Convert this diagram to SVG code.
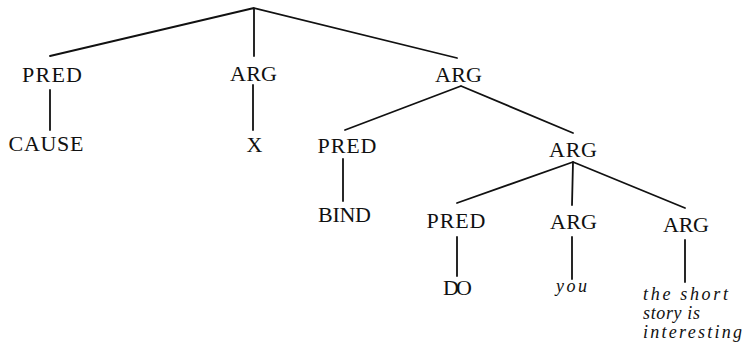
<svg xmlns="http://www.w3.org/2000/svg" width="748" height="347" viewBox="0 0 748 347">
<style>
.n{font-family:"Liberation Serif","Times New Roman",serif;font-size:22px;fill:#111;text-anchor:middle}
.i{font-family:"Liberation Serif","Times New Roman",serif;font-size:18px;font-style:italic;fill:#111}
.c{stroke:#111;stroke-width:1.8;fill:none;stroke-linecap:round}
</style>
<rect width="748" height="347" fill="#fff"/>
<g id="connectors">
<path class="c" d="M254 8 L50 56 M254 8 L254 56 M254 8 L457 58"/>
<path class="c" d="M50 90 L50 130 M253 85 L253 130"/>
<path class="c" d="M461 86 L345 130 M461 86 L573 133"/>
<path class="c" d="M343 159 L343 201"/>
<path class="c" d="M573 162 L457 203 M573 162 L572 205 M573 162 L685 208"/>
<path class="c" d="M457 237 L457 276 M572 237 L572 279 M685 240 L685 282"/>
</g>
<g id="pred1"><text class="n" x="52" y="82" textLength="60">PRED</text></g>
<g id="cause"><text class="n" x="46" y="151" textLength="75">CAUSE</text></g>
<g id="arg1"><text class="n" x="253.5" y="81" textLength="47">ARG</text></g>
<g id="x"><text class="n" x="254.5" y="152">X</text></g>
<g id="arg2"><text class="n" x="458.5" y="82" textLength="47">ARG</text></g>
<g id="pred2"><text class="n" x="347" y="153" textLength="59">PRED</text></g>
<g id="bind"><text class="n" x="344.5" y="222" textLength="53">BIND</text></g>
<g id="arg3"><text class="n" x="573" y="157" textLength="48">ARG</text></g>
<g id="pred3"><text class="n" x="456" y="228" textLength="59">PRED</text></g>
<g id="do"><text class="n" x="457.5" y="295" textLength="29">DO</text></g>
<g id="arg4"><text class="n" x="573.5" y="229" textLength="47">ARG</text></g>
<g id="you"><text class="i" x="556" y="292" textLength="31">you</text></g>
<g id="arg5"><text class="n" x="686" y="232" textLength="46">ARG</text></g>
<g id="story">
<text class="i" x="643" y="300" textLength="85">the short</text>
<text class="i" x="643" y="319" textLength="57">story is</text>
<text class="i" x="643" y="338" textLength="99">interesting</text>
</g>
</svg>
